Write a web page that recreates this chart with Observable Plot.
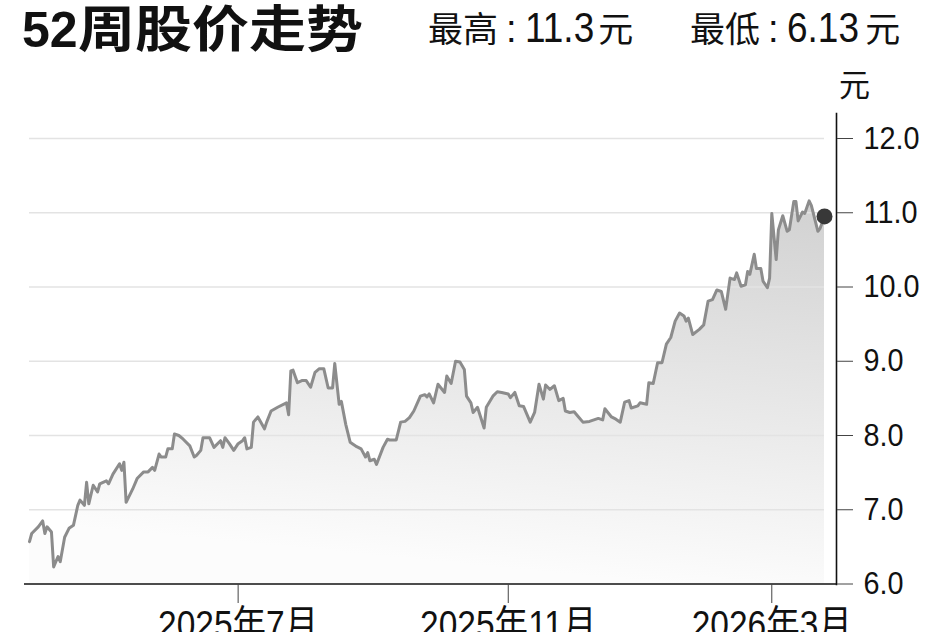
<!DOCTYPE html>
<html><head><meta charset="utf-8">
<script src="https://cdn.jsdelivr.net/npm/d3@7"></script>
<script src="https://cdn.jsdelivr.net/npm/@observablehq/plot@0.6"></script>
<style>
html,body{margin:0;padding:0;background:#fff;}
body{width:948px;height:632px;overflow:hidden;position:relative;color:#111;}
#header{position:relative;height:60px;}
.title{position:absolute;left:22px;top:-4px;font-weight:bold;line-height:58px;white-space:nowrap;}
.title .d{font-family:"Liberation Sans",Arial,sans-serif;font-size:50px;}
.title .c{display:inline-block;font-family:"Noto Sans CJK SC",sans-serif;font-size:50px;transform:scaleX(1.14);transform-origin:0 50%;}
.stat{position:absolute;top:2px;font-size:35px;line-height:50px;white-space:nowrap;}
.stat .cjk{font-family:"Noto Sans CJK SC",sans-serif;}
.stat .num{display:inline-block;font-family:"Liberation Sans",Arial,sans-serif;font-size:42px;transform:scaleX(0.88);transform-origin:0 50%;}
.stat .colon{font-family:"Liberation Sans",Arial,sans-serif;font-size:38px;margin:0 8px 0 8px;}
#chart svg{display:block;overflow:visible;}
</style></head>
<body>
<div id="header"></div>
<div id="chart"></div>
<script>
// ---- data ----
const titleNum = "52";
const titleText = "周股价走势";
const highLabel = "最高", highValue = "11.3";
const lowLabel = "最低", lowValue = "6.13";
const unitLabel = "元";
const startDate = "2025-03-28";
// trading days, as day offsets from startDate
const days = [
  0,1,4,6,7,8,10,11,13,14,
  16,18,20,22,23,25,26,27,29,31,
  32,35,36,38,41,42,43,44,47,49,
  52,54,56,57,59,60,62,63,65,66,
  68,70,73,75,76,78,79,82,84,87,
  88,89,91,93,95,97,98,99,101,102,
  104,107,108,110,113,117,118,119,120,122,
  124,126,128,130,132,134,136,138,139,141,
  142,144,146,149,151,153,154,155,157,158,
  161,163,164,167,169,171,173,175,178,180,
  181,182,184,186,189,190,192,194,196,198,
  199,201,202,204,207,208,211,213,215,218,
  219,221,223,225,228,230,232,234,235,237,
  239,241,243,244,246,248,250,252,255,259,
  261,262,265,267,269,271,273,274,277,278,
  281,282,284,286,288,290,292,294,296,298,
  299,300,302,305,307,309,311,313,315,317,
  319,321,322,324,326,327,328,330,331,333,
  334,336,337,338,340,341,343,345,346,348,
  349,350,352,353,355,356,359,360,362
];
const prices = [
  6.57,6.68,6.77,6.85,6.68,6.77,6.70,6.23,6.37,6.30,
  6.63,6.75,6.79,7.06,7.13,7.06,7.37,7.08,7.33,7.24,
  7.35,7.39,7.35,7.48,7.62,7.53,7.64,7.10,7.28,7.42,
  7.51,7.51,7.57,7.53,7.75,7.71,7.71,7.82,7.82,8.02,
  8.00,7.95,7.86,7.71,7.73,7.80,7.97,7.97,7.84,7.93,
  7.84,7.97,7.89,7.80,7.89,7.93,7.97,7.82,7.84,8.18,
  8.25,8.09,8.18,8.33,8.38,8.44,8.28,8.87,8.88,8.71,
  8.74,8.74,8.65,8.85,8.90,8.90,8.64,8.64,8.97,8.42,
  8.46,8.15,7.91,7.85,7.82,7.71,7.77,7.66,7.68,7.61,
  7.84,7.95,7.94,7.94,8.18,8.19,8.24,8.33,8.53,8.55,
  8.52,8.56,8.44,8.69,8.58,8.80,8.70,9.00,8.99,8.89,
  8.53,8.44,8.31,8.38,8.10,8.38,8.53,8.59,8.58,8.56,
  8.51,8.58,8.40,8.39,8.18,8.31,8.69,8.49,8.68,8.62,
  8.67,8.47,8.50,8.33,8.31,8.32,8.25,8.18,8.19,8.23,
  8.21,8.36,8.25,8.22,8.18,8.45,8.47,8.37,8.40,8.44,
  8.42,8.71,8.70,8.98,8.98,9.23,9.32,9.54,9.65,9.61,
  9.54,9.58,9.36,9.43,9.49,9.81,9.83,9.96,9.94,9.70,
  10.12,10.10,10.19,10.01,10.03,10.21,10.17,10.44,10.25,10.25,
  10.08,9.99,10.12,10.99,10.37,10.77,10.96,10.75,10.77,11.15,
  11.15,10.89,11.01,10.99,11.16,11.10,10.75,10.79,10.95
];
const yTicks = [6, 7, 8, 9, 10, 11, 12];
const gridValues = [7, 8, 9, 10, 11, 12];
const xTicks = ["2025-07-01", "2025-11-01", "2026-03-01"];

// ---- header ----
const header = document.getElementById("header");
header.innerHTML =
  `<div class="title"><span class="d">${titleNum}</span><span class="c">${titleText}</span></div>` +
  `<div class="stat" style="left:428px"><span class="cjk">${highLabel}</span><span class="colon">:</span><span class="num" style="margin-right:-5px">${highValue}</span><span class="cjk">${unitLabel}</span></div>` +
  `<div class="stat" style="left:690px"><span class="cjk">${lowLabel}</span><span class="colon">:</span><span class="num" style="margin-right:-3px">${lowValue}</span><span class="cjk">${unitLabel}</span></div>`;

// ---- chart ----
const start = new Date(startDate + "T00:00:00Z");
const data = days.map((d, i) => ({date: new Date(start.getTime() + d * 864e5), price: prices[i]}));
const end = data[data.length - 1].date;
const last = data[data.length - 1];
const tickDates = xTicks.map(s => new Date(s + "T00:00:00Z"));
const yFormat = d => d.toFixed(1);
const xFormat = d => `${d.getUTCFullYear()}年${d.getUTCMonth() + 1}月`;

const chart = Plot.plot({
  width: 948,
  height: 572,
  marginLeft: 24,
  marginRight: 112,
  marginTop: 53,
  marginBottom: 48,
  style: {fontFamily: '"Liberation Sans",Arial,"Noto Sans CJK SC",sans-serif', color: "#111", background: "transparent", overflow: "visible"},
  x: {type: "utc", domain: [start, end], range: [29, 824]},
  y: {domain: [6, 12], range: [523.5, 78]},
  marks: [
    Plot.areaY(data, {x: "date", y1: 6, y2: "price", fill: "url(#areaGrad)"}),
    Plot.ruleY(gridValues, {x1: start, x2: end, stroke: "#e3e3e3", strokeWidth: 1.5}),
    Plot.ruleY([6], {stroke: "#111", strokeWidth: 1.6}),
    Plot.frame({anchor: "right", stroke: "#111", strokeWidth: 1.6}),
    Plot.lineY(data, {x: "date", y: "price", stroke: "#8c8c8c", strokeWidth: 3}),
    Plot.dot([last], {x: "date", y: "price", r: 8, fill: "#383838", stroke: "none"}),
    Plot.axisY({anchor: "right", ticks: yTicks, tickFormat: yFormat, tickSize: 16, tickPadding: 11, fontSize: 32, stroke: "#444", fill: "#111", label: null}),
    Plot.axisX({anchor: "bottom", ticks: tickDates, tickFormat: xFormat, tickSize: 19, tickPadding: 7, fontSize: 39, stroke: "#444", fill: "#111", label: null}),
    Plot.text([unitLabel], {frameAnchor: "top-right", textAnchor: "middle", dx: 18, dy: -18, lineAnchor: "bottom", fontSize: 31, fill: "#111", fontFamily: '"Noto Sans CJK SC",sans-serif'})
  ]
});

// condense the tick labels horizontally around their anchors
function condense(labels, s) {
  const set = new Set(labels);
  chart.querySelectorAll("text").forEach(t => {
    if (!set.has(t.textContent.trim())) return;
    const xa = t.getAttribute("x");
    let x = 0;
    if (xa != null && /^-?[\d.]+$/.test(xa.trim())) { x = parseFloat(xa); t.setAttribute("x", 0); }
    const tr = t.getAttribute("transform") || "";
    t.setAttribute("transform", `${tr} translate(${x},0) scale(${s},1)`);
  });
}
condense(yTicks.map(yFormat), 0.9);
condense(tickDates.map(xFormat), 0.86);

const ns = "http://www.w3.org/2000/svg";
const defs = document.createElementNS(ns, "defs");
defs.innerHTML = '<linearGradient id="areaGrad" x1="1" y1="0" x2="0.8" y2="1"><stop offset="0" stop-color="#d1d1d1"/><stop offset="1" stop-color="#fcfcfc"/></linearGradient>';
chart.insertBefore(defs, chart.firstChild);
document.getElementById("chart").appendChild(chart);
</script>
</body></html>
